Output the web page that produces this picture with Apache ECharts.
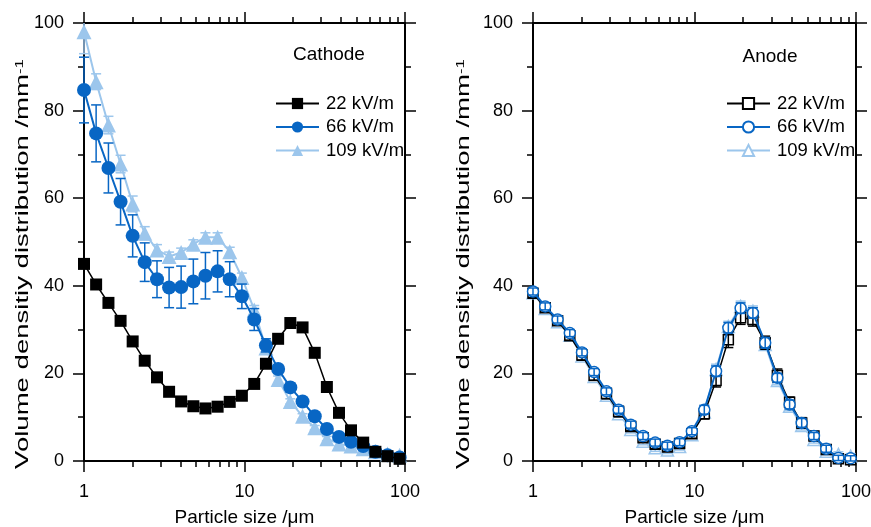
<!DOCTYPE html>
<html>
<head>
<meta charset="utf-8">
<script src="https://cdn.jsdelivr.net/npm/echarts@6/dist/echarts.min.js"></script>
<style>
html,body{margin:0;padding:0;background:#fff;}
#chart{width:871px;height:527px;}
</style>
</head>
<body>
<div id="chart"></div>
<script>
// ---------------- data ----------------
const sizes = [1.00, 1.19, 1.42, 1.69, 2.01, 2.39, 2.85, 3.39, 4.03, 4.80, 5.71, 6.80, 8.09, 9.63, 11.5, 13.6, 16.2, 19.3, 23.0, 27.4, 32.6, 38.8, 46.1, 54.9, 65.4, 77.8, 92.6];

const seriesNames = ['22 kV/m', '66 kV/m', '109 kV/m'];

const cathode22 = [45.0, 40.3, 36.1, 32.0, 27.3, 22.9, 19.1, 15.8, 13.6, 12.5, 12.0, 12.4, 13.5, 14.9, 17.6, 22.2, 27.9, 31.5, 30.5, 24.7, 16.9, 11.0, 7.0, 4.2, 2.1, 1.1, 0.5];
const cathode66 = [84.7, 74.8, 66.9, 59.2, 51.4, 45.4, 41.5, 39.6, 39.7, 41.0, 42.3, 43.3, 41.5, 37.6, 32.3, 26.4, 21.0, 16.8, 13.6, 10.2, 7.3, 5.5, 4.4, 3.4, 2.1, 1.3, 0.8];
const cathode66Err = [7.5, 6.5, 5.7, 5.3, 4.8, 4.4, 4.2, 4.6, 4.8, 5.1, 5.3, 4.7, 4.0, 2.8, 2.5, 1.5, 1.0, 1.0, 0.8, 0.8, 0.8, 0.8, 0.8, 0.6, 0.6, 0.5, 0.5];
const cathode109 = [98.0, 86.6, 76.7, 67.8, 58.7, 52.0, 48.2, 46.7, 47.6, 49.5, 51.1, 51.1, 47.8, 41.9, 34.5, 25.8, 18.6, 13.6, 10.2, 7.6, 5.1, 3.9, 3.4, 2.8, 2.1, 1.6, 1.3];
const cathode109Err = [5.0, 1.8, 2.0, 2.0, 1.8, 1.5, 1.2, 1.0, 1.0, 1.0, 1.0, 1.0, 1.0, 1.0, 1.0, 0.8, 0.8, 0.6, 0.6, 0.5, 0.5, 0.5, 0.5, 0.4, 0.4, 0.4, 0.4];

const anode22 = [38.3, 35.0, 32.0, 28.6, 24.2, 19.6, 15.4, 11.3, 7.9, 5.3, 3.8, 3.2, 4.0, 6.2, 10.8, 18.4, 27.7, 32.7, 32.3, 27.0, 19.5, 13.4, 8.7, 5.7, 2.6, 0.5, 0.3];
const anode22Err = [1.0, 1.0, 1.0, 1.0, 1.2, 1.2, 1.2, 1.2, 1.0, 1.0, 1.0, 1.0, 1.0, 1.0, 1.2, 1.5, 1.8, 1.5, 1.5, 1.5, 1.5, 1.2, 1.2, 1.0, 1.0, 0.8, 0.8];
const anode66 = [38.7, 35.3, 32.3, 29.2, 24.8, 20.3, 15.9, 11.7, 8.3, 5.7, 4.2, 3.5, 4.3, 6.8, 11.7, 20.5, 30.4, 34.9, 33.8, 27.0, 19.0, 12.9, 8.7, 5.7, 2.8, 0.7, 0.6];
const anode66Err = [0.8, 0.8, 0.8, 0.8, 0.8, 0.8, 0.8, 0.8, 0.8, 0.8, 0.8, 0.8, 0.8, 0.8, 1.0, 1.2, 1.2, 1.2, 1.2, 1.2, 1.0, 1.0, 1.0, 0.8, 0.8, 0.6, 0.6];
const anode109 = [38.4, 34.8, 31.8, 28.7, 24.0, 19.3, 15.0, 10.8, 7.2, 4.5, 3.0, 2.5, 3.3, 6.0, 11.2, 20.9, 30.7, 35.3, 34.2, 26.6, 18.4, 12.5, 8.1, 4.9, 2.2, 1.5, 1.1];
const anode109Err = [0.8, 0.8, 0.8, 0.8, 0.8, 0.8, 0.8, 0.8, 0.8, 0.8, 0.8, 0.8, 0.8, 0.8, 1.0, 1.2, 1.2, 1.2, 1.2, 1.2, 1.0, 1.0, 1.0, 0.8, 0.8, 0.6, 0.6];

const xMajorTicks = [1, 10, 100];
const xMinorTicks = [2, 3, 4, 5, 6, 7, 8, 9, 20, 30, 40, 50, 60, 70, 80, 90];

const xTitle = 'Particle size /μm';
const yTitleMain = 'Volume densitiy distribution /mm';
const yTitleSup = '-1';
const panelTitles = ['Cathode', 'Anode'];

// ---------------- styles ----------------
const FONT = '"Liberation Sans", Arial, Helvetica, sans-serif';
const C_BLACK = '#000000';
const C_BLUE = '#0866C4';
const C_LIGHT = '#9CC6EC';

function xAxisDef(grid, position, ticks, len, labels) {
  return {
    type: 'log', logBase: 10, min: 1, max: 100, gridIndex: grid, position: position,
    axisLine: { show: true, onZero: false, lineStyle: { color: '#000', width: 2 } },
    axisTick: { show: true, customValues: ticks, length: len, lineStyle: { color: '#000', width: 1.5 } },
    minorTick: { show: false },
    splitLine: { show: false },
    minorSplitLine: { show: false },
    axisLabel: labels ? { show: true, customValues: xMajorTicks, margin: 22, fontSize: 18, color: '#000', fontFamily: FONT } : { show: false },
    name: labels ? xTitle : '',
    nameLocation: 'middle',
    nameGap: 47,
    nameTextStyle: { fontSize: 19, color: '#000', fontFamily: FONT }
  };
}
function yAxisDef(grid, position, labels) {
  return {
    type: 'value', min: 0, max: 100, interval: 20, gridIndex: grid, position: position,
    axisLine: { show: true, onZero: false, lineStyle: { color: '#000', width: 2 } },
    axisTick: { show: true, length: 11, lineStyle: { color: '#000', width: 1.5 } },
    minorTick: { show: true, splitNumber: 2, length: 6, lineStyle: { color: '#000', width: 1.5 } },
    splitLine: { show: false },
    axisLabel: labels ? { show: true, margin: 20, fontSize: 18, color: '#000', fontFamily: FONT } : { show: false }
  };
}

const xAxes = [];
const yAxes = [];
[0, 1].forEach(g => {
  xAxes.push(xAxisDef(g, 'bottom', xMajorTicks, 11, true));
  xAxes.push(xAxisDef(g, 'bottom', xMinorTicks, 6, false));
  xAxes.push(xAxisDef(g, 'top', xMajorTicks, 11, false));
  xAxes.push(xAxisDef(g, 'top', xMinorTicks, 6, false));
  yAxes.push(yAxisDef(g, 'left', true));
  yAxes.push(yAxisDef(g, 'right', false));
});

function pairs(vals) { return sizes.map((x, i) => [x, vals[i]]); }
function errTriples(vals, errs) { return sizes.map((x, i) => [x, vals[i] - errs[i], vals[i] + errs[i]]); }

function errSeries(grid, vals, errs, color, capHalf, z) {
  return {
    type: 'custom', xAxisIndex: grid * 4, yAxisIndex: grid * 2, z: z, silent: true,
    encode: { x: 0, y: [1, 2] },
    data: errTriples(vals, errs),
    renderItem: function (params, api) {
      const x = api.value(0);
      const lo = Math.max(api.value(1), 0);
      const hiRaw = api.value(2);
      const hi = Math.min(hiRaw, 100);
      const pt = api.coord([x, hi]);
      const pb = api.coord([x, lo]);
      const st = { stroke: color, lineWidth: 1.5 };
      const children = [
        { type: 'line', shape: { x1: pt[0], y1: pt[1], x2: pb[0], y2: pb[1] }, style: st },
        { type: 'line', shape: { x1: pb[0] - capHalf, y1: pb[1], x2: pb[0] + capHalf, y2: pb[1] }, style: st }
      ];
      if (hiRaw <= 100) {
        children.push({ type: 'line', shape: { x1: pt[0] - capHalf, y1: pt[1], x2: pt[0] + capHalf, y2: pt[1] }, style: st });
      }
      return { type: 'group', children: children };
    }
  };
}

function lineSeries(grid, name, vals, color, symbol, size, hollow, lw, z) {
  return {
    type: 'line', name: name, xAxisIndex: grid * 4, yAxisIndex: grid * 2, z: z,
    data: pairs(vals), symbol: symbol, symbolSize: size, showAllSymbol: true,
    lineStyle: { color: color, width: lw },
    itemStyle: hollow ? { color: '#ffffff', borderColor: color, borderWidth: 1.5 } : { color: color, borderWidth: 0 },
    emphasis: { disabled: true },
    clip: true
  };
}

const anodeNames = seriesNames.map(n => n + ' ');

const series = [
  // Cathode
  lineSeries(0, seriesNames[2], cathode109, C_LIGHT, 'triangle', 15, false, 2, 2),
  errSeries(0, cathode109, cathode109Err, C_LIGHT, 5, 2),
  errSeries(0, cathode66, cathode66Err, C_BLUE, 5, 3),
  lineSeries(0, seriesNames[1], cathode66, C_BLUE, 'circle', 14, false, 2, 4),
  lineSeries(0, seriesNames[0], cathode22, C_BLACK, 'rect', 12, false, 1.5, 5),
  // Anode
  lineSeries(1, anodeNames[2], anode109, C_LIGHT, 'triangle', 12, true, 2, 2),
  errSeries(1, anode109, anode109Err, C_LIGHT, 5, 3),
  lineSeries(1, anodeNames[0], anode22, C_BLACK, 'rect', 10, true, 1.5, 4),
  errSeries(1, anode22, anode22Err, C_BLACK, 5, 5),
  lineSeries(1, anodeNames[1], anode66, C_BLUE, 'circle', 11, true, 2, 6),
  errSeries(1, anode66, anode66Err, C_BLUE, 5, 7)
];

function legendDef(names, left) {
  return {
    data: names, orient: 'vertical', left: left, top: 89,
    itemWidth: 43, itemHeight: 14, itemGap: 4.5,
    selectedMode: false,
    formatter: n => n.trim(),
    textStyle: { fontSize: 18.5, color: '#000', fontFamily: FONT, padding: [0, 0, 0, 2] }
  };
}

function yTitle(x) {
  return {
    type: 'text', x: x, y: 264, rotation: Math.PI / 2, scaleX: 1.53, scaleY: 1, z: 10,
    style: {
      text: '{a|' + yTitleMain + '}{b|' + yTitleSup + '}',
      align: 'center', verticalAlign: 'middle',
      rich: {
        a: { fontSize: 18, fontFamily: FONT, fill: '#000', color: '#000' },
        b: { fontSize: 11, fontFamily: FONT, fill: '#000', color: '#000', verticalAlign: 'top' }
      }
    }
  };
}

const option = {
  animation: false,
  backgroundColor: '#ffffff',
  grid: [
    { left: 84, right: 466, top: 23, bottom: 66, containLabel: false, outerBoundsMode: 'none' },
    { left: 533, right: 15, top: 23, bottom: 66, containLabel: false, outerBoundsMode: 'none' }
  ],
  xAxis: xAxes,
  yAxis: yAxes,
  legend: [legendDef(seriesNames, 270), legendDef(anodeNames, 721)],
  graphic: [
    { type: 'text', x: 329, y: 55, style: { text: panelTitles[0], fontSize: 19, fontFamily: FONT, fill: '#000', align: 'center', verticalAlign: 'middle' } },
    { type: 'text', x: 770, y: 57, style: { text: panelTitles[1], fontSize: 19, fontFamily: FONT, fill: '#000', align: 'center', verticalAlign: 'middle' } },
    yTitle(23),
    yTitle(464)
  ],
  series: series
};

const chart = echarts.init(document.getElementById('chart'), null, { renderer: 'canvas' });
chart.setOption(option);
</script>
</body>
</html>
